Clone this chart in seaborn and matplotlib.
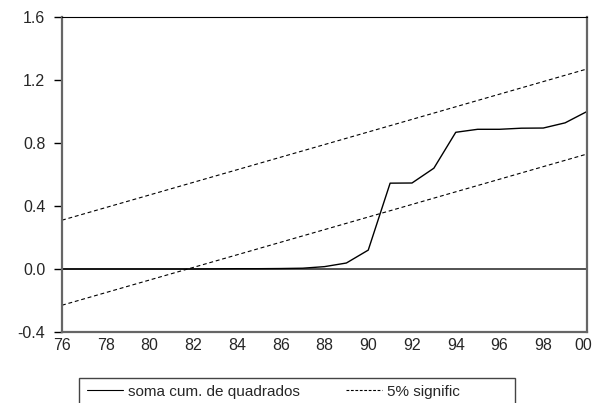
import numpy as np
import pandas as pd
import matplotlib
matplotlib.use('Agg')
import matplotlib.pyplot as plt
import matplotlib.transforms as mtransforms
import matplotlib.patches as mpatches
import seaborn as sns
from matplotlib.lines import Line2D
from matplotlib.ticker import FixedLocator

years = list(range(1976, 2001))
cusum_sq = [0.0, 0.0, 0.0, 0.0, 0.0, 0.0, 0.0, 0.001, 0.002, 0.002, 0.003,
            0.005, 0.015, 0.038, 0.12, 0.545, 0.546, 0.64, 0.868, 0.887,
            0.887, 0.894, 0.895, 0.928, 1.0]
upper_5 = [0.31, 0.35, 0.39, 0.43, 0.47, 0.51, 0.55, 0.59, 0.63, 0.67, 0.71,
           0.75, 0.79, 0.83, 0.87, 0.91, 0.95, 0.99, 1.03, 1.07, 1.11, 1.15,
           1.19, 1.23, 1.27]
lower_5 = [-0.23, -0.19, -0.15, -0.11, -0.07, -0.03, 0.01, 0.05, 0.09, 0.13,
           0.17, 0.21, 0.25, 0.29, 0.33, 0.37, 0.41, 0.45, 0.49, 0.53, 0.57,
           0.61, 0.65, 0.69, 0.73]
xtick_labels = ['76', '78', '80', '82', '84', '86', '88', '90', '92', '94',
                '96', '98', '00']
yticks = [-0.4, 0.0, 0.4, 0.8, 1.2, 1.6]
ytick_labels = ['-0.4', '0.0', '0.4', '0.8', '1.2', '1.6']

df = pd.DataFrame({'year': years, 'cusum': cusum_sq,
                   'upper': upper_5, 'lower': lower_5})

sns.set_style('white')
plt.rcParams['font.family'] = ['Liberation Sans', 'DejaVu Sans']

fig = plt.figure(figsize=(5.94, 4.03), dpi=100)
ax = fig.add_axes([62/594, 1-332/403, (587-62)/594, (332-17)/403])

ax.axhline(0, color='#444444', lw=1.3, zorder=1)
sns.lineplot(data=df, x='year', y='upper', ax=ax, color='black', lw=0.8,
             linestyle=(0, (3.5, 2.5)))
sns.lineplot(data=df, x='year', y='lower', ax=ax, color='black', lw=0.8,
             linestyle=(0, (3.5, 2.5)))
sns.lineplot(data=df, x='year', y='cusum', ax=ax, color='black', lw=1.0)

ax.set_xlim(1976, 2000)
ax.set_ylim(-0.4, 1.6)
ax.xaxis.set_major_locator(FixedLocator(years[::2]))
ax.set_xticks(years, minor=True)
ax.set_xticklabels(xtick_labels)
ax.yaxis.set_major_locator(FixedLocator(yticks))
ax.set_yticklabels(ytick_labels)
ax.set_xlabel('')
ax.set_ylabel('')

ax.tick_params(axis='x', which='both', direction='in', length=4, width=1,
               color='black', labelsize=11.5, pad=4, top=False)
ax.tick_params(axis='y', direction='out', length=6, width=1, color='black',
               labelsize=11.5, pad=6, left=True)

# the last label sits at the figure edge, nudge it inside like the original
last = ax.get_xticklabels()[-1]
last.set_transform(last.get_transform() +
                   mtransforms.ScaledTranslation(-4/100, 0, fig.dpi_scale_trans))

for side in ['left', 'right', 'bottom']:
    ax.spines[side].set_color('#666666')
    ax.spines[side].set_linewidth(1.6)
ax.spines['top'].set_color('black')
ax.spines['top'].set_linewidth(0.8)

handles = [Line2D([], [], color='black', lw=0.8),
           Line2D([], [], color='black', lw=0.8, linestyle=(0, (2.5, 1.5)))]
leg = fig.legend(handles, ['soma cum. de quadrados', '5% signific'],
                 loc='upper left', bbox_to_anchor=(79/594, 1-377/403),
                 ncol=2, fontsize=11, frameon=False,
                 handlelength=2.4, handletextpad=0.3, columnspacing=3.0,
                 borderpad=0.5, borderaxespad=0)

# legend box runs past the bottom edge of the picture
fig.patches.append(mpatches.Rectangle((79/594, -0.05), (515-79)/594,
                                      (403-378)/403 + 0.05,
                                      transform=fig.transFigure, fill=False,
                                      edgecolor='#444444', lw=1.0))

fig.savefig('out.png', dpi=100)
